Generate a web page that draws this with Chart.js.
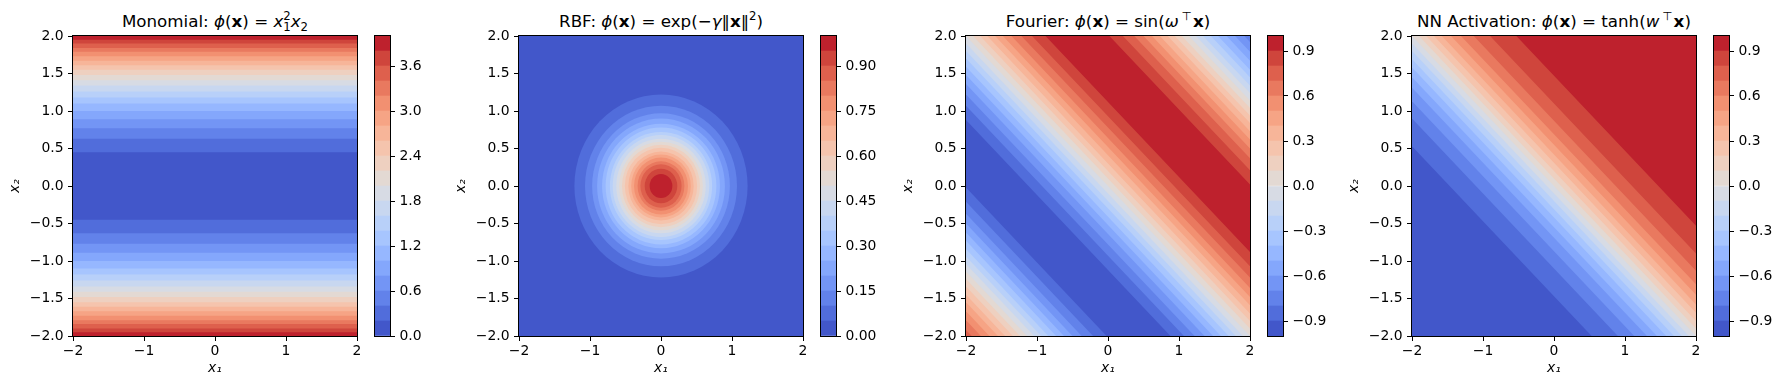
<!DOCTYPE html>
<html>
<head>
<meta charset="utf-8">
<script src="https://cdn.jsdelivr.net/npm/chart.js@4.4.1/dist/chart.umd.min.js"></script>
<style>
body { margin: 0; background: #fff; width: 1781px; height: 390px; position: relative; overflow: hidden; font-family: 'DejaVu Sans'; }
canvas { position: absolute; top: 0; }
.title { position: absolute; top: 11px; width: 440px; text-align: center; font-size: 16.7px; line-height: 20px; white-space: nowrap; color: #000; }
.title i { font-style: italic; }
.title b { font-weight: bold; }
.sup { font-size: 70%; position: relative; top: -0.6em; }
.sub { font-size: 70%; position: relative; top: 0.35em; }
.st { margin-left: -0.64em; }
.top { margin-left: 0.25em; margin-right: 0.1em; }
</style>
</head>
<body>
<script>
// axis ticks shared by the four contour panels
const xTicks = [-2, -1, 0, 1, 2];
const yTicks = [-2, -1.5, -1, -0.5, 0, 0.5, 1, 1.5, 2];

const titles = [
    'Monomial: <i>ϕ</i>(<b>x</b>) = <i>x</i><span class="sup">2</span><span class="sub st">1</span><i>x</i><span class="sub">2</span>',
    'RBF: <i>ϕ</i>(<b>x</b>) = exp(−<i>γ</i>‖<b>x</b>‖<span class="sup">2</span>)',
    'Fourier: <i>ϕ</i>(<b>x</b>) = sin(<i>ω</i><span class="sup top">⊤</span><b>x</b>)',
    'NN Activation: <i>ϕ</i>(<b>x</b>) = tanh(<i>w</i><span class="sup top">⊤</span><b>x</b>)'
];

// contour levels (20 filled bands each) and colorbar ticks
const monoLevels = [0, 0.2, 0.4, 0.6, 0.8, 1.0, 1.2, 1.4, 1.6, 1.8, 2.0, 2.2, 2.4, 2.6, 2.8, 3.0, 3.2, 3.4, 3.6, 3.8, 4.0];
const rbfLevels = [0, 0.05, 0.1, 0.15, 0.2, 0.25, 0.3, 0.35, 0.4, 0.45, 0.5, 0.55, 0.6, 0.65, 0.7, 0.75, 0.8, 0.85, 0.9, 0.95, 1.0];
const sinLevels = [-1, -0.9, -0.8, -0.7, -0.6, -0.5, -0.4, -0.3, -0.2, -0.1, 0, 0.1, 0.2, 0.3, 0.4, 0.5, 0.6, 0.7, 0.8, 0.9, 1];
const tanhLevels = [-1, -0.9, -0.8, -0.7, -0.6, -0.5, -0.4, -0.3, -0.2, -0.1, 0, 0.1, 0.2, 0.3, 0.4, 0.5, 0.6, 0.7, 0.8, 0.9, 1];

const monoTicks = [0, 0.6, 1.2, 1.8, 2.4, 3.0, 3.6];
const rbfTicks = [0, 0.15, 0.3, 0.45, 0.6, 0.75, 0.9];
const sinTicks = [-0.9, -0.6, -0.3, 0, 0.3, 0.6, 0.9];
const tanhTicks = [-0.9, -0.6, -0.3, 0, 0.3, 0.6, 0.9];

// band boundaries: where each band starts, and which band it is
// monomial: along x2, bottom to top
const monoEdges = [-2, -1.95, -1.9, -1.84, -1.79, -1.73, -1.67, -1.61, -1.55, -1.48, -1.41, -1.34, -1.26, -1.18, -1.1, -1.0, -0.89, -0.77, -0.63, -0.45,
    0.45, 0.63, 0.77, 0.89, 1.0, 1.1, 1.18, 1.26, 1.34, 1.41, 1.48, 1.55, 1.61, 1.67, 1.73, 1.79, 1.84, 1.9, 1.95];
const monoBands = [19, 18, 17, 16, 15, 14, 13, 12, 11, 10, 9, 8, 7, 6, 5, 4, 3, 2, 1, 0,
    1, 2, 3, 4, 5, 6, 7, 8, 9, 10, 11, 12, 13, 14, 15, 16, 17, 18, 19];
// rbf: ring radius around the origin, outside in
const rbfRadii = [3.0, 1.22, 1.07, 0.97, 0.9, 0.83, 0.78, 0.72, 0.68, 0.63, 0.59, 0.55, 0.51, 0.46, 0.42, 0.38, 0.33, 0.29, 0.23, 0.16];
const rbfBands = [0, 1, 2, 3, 4, 5, 6, 7, 8, 9, 10, 11, 12, 13, 14, 15, 16, 17, 18, 19];
// fourier: along x1 + x2
const sinEdges = [-4, -3.92, -3.79, -3.67, -3.55, -3.45, -3.34, -3.24, -3.14, -3.04, -2.94, -2.84, -2.73, -2.62, -2.5, -2.37, -2.21, -2.02,
    -1.12, -0.93, -0.78, -0.64, -0.52, -0.41, -0.3, -0.2, -0.1, 0, 0.1, 0.2, 0.3, 0.41, 0.52, 0.64, 0.78, 0.93, 1.12,
    2.02, 2.21, 2.37, 2.5, 2.62, 2.73, 2.84, 2.94, 3.04, 3.14, 3.24, 3.34, 3.45, 3.55, 3.67, 3.79, 3.92];
const sinBands = [17, 16, 15, 14, 13, 12, 11, 10, 9, 8, 7, 6, 5, 4, 3, 2, 1, 0,
    1, 2, 3, 4, 5, 6, 7, 8, 9, 10, 11, 12, 13, 14, 15, 16, 17, 18, 19,
    18, 17, 16, 15, 14, 13, 12, 11, 10, 9, 8, 7, 6, 5, 4, 3, 2];
// nn activation: along x1 + x2
const tanhEdges = [-4, -1.47, -1.1, -0.87, -0.69, -0.55, -0.42, -0.31, -0.2, -0.1, 0, 0.1, 0.2, 0.31, 0.42, 0.55, 0.69, 0.87, 1.1, 1.47];
const tanhBands = [0, 1, 2, 3, 4, 5, 6, 7, 8, 9, 10, 11, 12, 13, 14, 15, 16, 17, 18, 19];

// coolwarm
const coolwarm = [[59,76,192],[68,90,204],[77,104,215],[87,117,225],[98,130,234],[108,142,241],[119,154,247],[130,165,251],
    [141,176,254],[152,185,255],[163,194,255],[174,201,253],[184,208,249],[194,213,244],[204,217,238],[213,219,230],
    [221,221,221],[229,216,209],[236,211,197],[241,204,185],[245,196,173],[247,187,160],[247,177,148],[247,166,135],
    [244,154,123],[241,141,111],[236,127,99],[229,112,88],[222,96,77],[213,80,66],[203,62,56],[192,40,47],[180,4,38]];

function cmap(t) {
    const p = t * 32;
    const i = Math.min(31, Math.floor(p));
    const f = p - i;
    const a = coolwarm[i], b = coolwarm[i + 1];
    return 'rgb(' + [0, 1, 2].map(j => Math.round(a[j] + (b[j] - a[j]) * f)).join(',') + ')';
}
function bandColor(k) { return cmap((k + 0.5) / 20); }
function fmt(v, d) { return Number(v).toFixed(d).replace('-', '\u2212'); }

Chart.defaults.font.family = "'DejaVu Sans'";
Chart.defaults.font.size = 13.9;
Chart.defaults.color = '#000';

const frame = {
    id: 'frame',
    afterDatasetsDraw(chart) {
        const { ctx, chartArea: a } = chart;
        ctx.save();
        ctx.strokeStyle = '#000';
        ctx.lineWidth = 1;
        ctx.strokeRect(a.left - 0.5, a.top - 0.5, a.width + 1, a.height + 1);
        ctx.restore();
    }
};

const rings = {
    id: 'rings',
    beforeDatasetsDraw(chart) {
        const { ctx, chartArea: a, scales: { x, y } } = chart;
        ctx.save();
        ctx.beginPath();
        ctx.rect(a.left, a.top, a.width, a.height);
        ctx.clip();
        const cx = x.getPixelForValue(0), cy = y.getPixelForValue(0);
        rbfRadii.forEach((r, i) => {
            ctx.fillStyle = bandColor(rbfBands[i]);
            ctx.beginPath();
            ctx.ellipse(cx, cy, x.getPixelForValue(r) - cx, cy - y.getPixelForValue(r), 0, 0, Math.PI * 2);
            ctx.fill();
        });
        ctx.restore();
    }
};

const panels = [
    { kind: 'rows', edges: monoEdges, bands: monoBands, levels: monoLevels, ticks: monoTicks, dec: 1 },
    { kind: 'rings', edges: [], bands: [], levels: rbfLevels, ticks: rbfTicks, dec: 2 },
    { kind: 'diag', edges: sinEdges, bands: sinBands, levels: sinLevels, ticks: sinTicks, dec: 1 },
    { kind: 'diag', edges: tanhEdges, bands: tanhBands, levels: tanhLevels, ticks: tanhTicks, dec: 1 }
];
const axesLeft = [73, 519, 966, 1412];

function addCanvas(left, width) {
    const c = document.createElement('canvas');
    c.width = width;
    c.height = 390;
    c.style.left = left + 'px';
    document.body.appendChild(c);
    return c;
}

function tickGrid() {
    return { display: true, drawOnChartArea: false, drawTicks: true, tickLength: 5, tickColor: '#000', tickWidth: 1 };
}

function bandSets(p) {
    return p.edges.map((e, i) => ({
        data: p.kind === 'rows' ? [{ x: -2, y: e }, { x: 2, y: e }] : [{ x: -2, y: e + 2 }, { x: 2, y: e - 2 }],
        fill: 'end',
        backgroundColor: bandColor(p.bands[i]),
        borderWidth: 0,
        pointRadius: 0,
        order: -i
    }));
}

panels.forEach((p, n) => {
    const left = axesLeft[n];

    const t = document.createElement('div');
    t.className = 'title';
    t.style.left = (left + 142 - 220) + 'px';
    t.innerHTML = titles[n];
    document.body.appendChild(t);

    new Chart(addCanvas(left - 73, 365), {
        type: 'line',
        data: { datasets: bandSets(p) },
        options: {
            responsive: false,
            animation: false,
            devicePixelRatio: 1,
            events: [],
            layout: { padding: { left: 0, top: 36, right: 8, bottom: 0 } },
            plugins: { legend: { display: false }, tooltip: { enabled: false } },
            scales: {
                x: {
                    type: 'linear', min: -2, max: 2,
                    afterBuildTicks: s => { s.ticks = xTicks.map(v => ({ value: v })); },
                    afterFit: s => { s.height = 54; },
                    grid: tickGrid(),
                    border: { display: false },
                    ticks: { padding: 2.5, maxRotation: 0, autoSkip: false, callback: v => fmt(v, 0) },
                    title: { display: true, text: 'x₁', font: { style: 'italic' }, padding: { top: 0, bottom: 13 } }
                },
                y: {
                    type: 'linear', min: -2, max: 2,
                    afterBuildTicks: s => { s.ticks = yTicks.map(v => ({ value: v })); },
                    afterFit: s => { s.width = 73; },
                    grid: tickGrid(),
                    border: { display: false },
                    ticks: { padding: 4.5, autoSkip: false, callback: v => fmt(v, 1) },
                    title: { display: true, text: 'x₂', font: { style: 'italic' }, padding: { top: 7, bottom: 0 } }
                }
            }
        },
        plugins: p.kind === 'rings' ? [rings, frame] : [frame]
    });

    // colorbar
    const cbLeft = left + 302;
    new Chart(addCanvas(cbLeft - 2, 65), {
        type: 'bar',
        data: {
            labels: [''],
            datasets: p.levels.slice(0, -1).map((lo, k) => ({
                data: [[lo, p.levels[k + 1]]],
                backgroundColor: bandColor(k),
                borderWidth: 0,
                grouped: false,
                barPercentage: 1,
                categoryPercentage: 1
            }))
        },
        options: {
            responsive: false,
            animation: false,
            devicePixelRatio: 1,
            events: [],
            layout: { padding: { left: 2, top: 36, right: 0, bottom: 54 } },
            plugins: { legend: { display: false }, tooltip: { enabled: false } },
            scales: {
                x: { display: false },
                y: {
                    position: 'right',
                    min: p.levels[0], max: p.levels[p.levels.length - 1],
                    afterBuildTicks: s => { s.ticks = p.ticks.map(v => ({ value: v })); },
                    afterFit: s => { s.width = 48; },
                    grid: tickGrid(),
                    border: { display: false },
                    ticks: { padding: 4.5, autoSkip: false, callback: v => fmt(v, p.dec) }
                }
            }
        },
        plugins: [frame]
    });
});
</script>
</body>
</html>
